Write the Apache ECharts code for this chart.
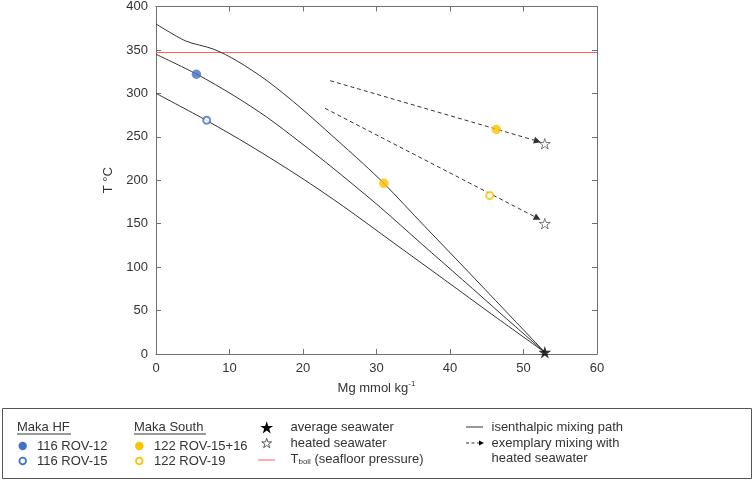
<!DOCTYPE html>
<html>
<head>
<meta charset="utf-8">
<script src="https://cdn.jsdelivr.net/npm/echarts@6/dist/echarts.min.js"></script>
<style>
html,body{margin:0;padding:0;background:#fff;}
#chart{width:754px;height:482px;}
</style>
</head>
<body>
<div id="chart"></div>
<script>
// isenthalpic mixing paths (Mg mmol/kg, T degC)
var curveHot = [[0,380],[4,360.5],[7.8,351],[11,337.5],[15.1,314.6],[19.6,284],[24.2,249.5],[28.2,219],[31,196.5],[36.5,147.5],[42,99],[47.5,50],[52.9,2]];
var curveMid = [[0,345],[5.5,322.3],[10.6,297.4],[15.1,272.5],[19.6,243.8],[24.2,213.2],[30.5,169],[36.1,127],[41.7,85.5],[47.3,43.5],[52.9,2]];
var curveLow = [[0,300],[6.9,268.7],[12.8,239.8],[19.6,203.8],[25.5,169.9],[32.4,127.5],[39.2,85.8],[46,43.8],[52.9,2]];
var tBoil = 347;

// samples
var hf12 = [[5.5,322]];
var hf15 = [[6.9,269]];
var south1516 = [[31,196.5],[46.3,258.5]];
var south19 = [[45.4,182.5]];
var avgSeawater = [[52.9,2]];
var heatedSeawater = [[52.9,242],[52.9,150]];

// exemplary mixing lines
var mixStart = [[23.7,314.6],[23.0,282.8]];
var mixEnd = [[51.9,245],[51.9,156.4]];

var FONT = 'Liberation Sans, Arial, sans-serif';
var TXT = '#333';
var AX = '#707070';
var BLUE = '#4472c4';
var GOLD = '#ffc000';
var RED = '#ff5a5a';
var STAR = 'path://M50,0 L61.2,34.5 L97.6,34.5 L68.2,55.9 L79.4,90.5 L50,69.1 L20.6,90.5 L31.8,55.9 L2.4,34.5 L38.8,34.5 Z';

function starPts(cx, cy, R){
  var p = [];
  for (var i = 0; i < 10; i++) {
    var a = (-90 + i*36) * Math.PI/180;
    var r = i % 2 ? R*0.382 : R;
    p.push([cx + r*Math.cos(a), cy + r*Math.sin(a)]);
  }
  return p;
}

var myChart = echarts.init(document.getElementById('chart'));

var axLine = {show:true, onZero:false, lineStyle:{color:AX, width:1}};
var axTick = {show:true, inside:true, length:5, lineStyle:{color:AX, width:1}};

// legend drawn by hand
var lg = [];
lg.push({type:'rect', shape:{x:2.5, y:408.5, width:749, height:70}, style:{fill:'none', stroke:'#555', lineWidth:1}});
function txt(x, y, s, rich){
  var o = {type:'text', x:x, y:y, style:{text:s, fill:TXT, font:'13px ' + FONT, textVerticalAlign:'middle'}};
  if (rich) o.style.rich = rich;
  lg.push(o);
}
txt(17, 427, 'Maka HF');
lg.push({type:'line', shape:{x1:17, y1:434, x2:71, y2:434}, style:{stroke:TXT, lineWidth:1}});
txt(134, 427, 'Maka South');
lg.push({type:'line', shape:{x1:134, y1:434, x2:206, y2:434}, style:{stroke:TXT, lineWidth:1}});

lg.push({type:'circle', shape:{cx:22.7, cy:446, r:4.2}, style:{fill:BLUE}});
lg.push({type:'circle', shape:{cx:22.7, cy:461, r:3.3}, style:{fill:'#fff', stroke:BLUE, lineWidth:1.8}});
txt(37, 446, '116 ROV-12');
txt(37, 461, '116 ROV-15');

lg.push({type:'circle', shape:{cx:139.3, cy:446, r:4.2}, style:{fill:GOLD}});
lg.push({type:'circle', shape:{cx:139.3, cy:461, r:3.3}, style:{fill:'#fff', stroke:GOLD, lineWidth:1.8}});
txt(154, 446, '122 ROV-15+16');
txt(154, 461, '122 ROV-19');

lg.push({type:'polygon', shape:{points:starPts(266.7, 428, 6.8)}, style:{fill:'#000'}});
lg.push({type:'polygon', shape:{points:starPts(266.7, 443.5, 5.2)}, style:{fill:'#fff', stroke:'#333', lineWidth:0.8}});
lg.push({type:'line', shape:{x1:258, y1:460, x2:275, y2:460}, style:{stroke:RED, lineWidth:1}});
txt(290.5, 427, 'average seawater');
txt(290.5, 443, 'heated seawater');
txt(290.5, 459, 'T{sub|boil} (seafloor pressure)', {sub:{fontSize:8, fontFamily:FONT, fill:TXT, verticalAlign:'bottom', lineHeight:9}});

lg.push({type:'line', shape:{x1:466, y1:427, x2:483, y2:427}, style:{stroke:'#333', lineWidth:1}});
lg.push({type:'line', shape:{x1:466, y1:443, x2:479, y2:443}, style:{stroke:'#333', lineWidth:1, lineDash:[3,2.5]}});
lg.push({type:'polygon', shape:{points:[[479,440.5],[484,443],[479,445.5]]}, style:{fill:'#000'}});
txt(491.5, 427, 'isenthalpic mixing path');
txt(491.5, 443, 'exemplary mixing with');
txt(491.5, 458, 'heated seawater');

function curve(d){
  return {type:'line', data:d, symbol:'none', smooth:0.3,
    lineStyle:{color:'#333', width:1}, z:2, silent:true};
}

myChart.setOption({
  animation:false,
  textStyle:{fontFamily:FONT},
  grid:{left:156, right:157, top:5, bottom:128, containLabel:false},
  xAxis:[
    {type:'value', min:0, max:60, interval:10, position:'bottom',
     axisLine:axLine, axisTick:axTick, splitLine:{show:false},
     axisLabel:{color:TXT, fontSize:13, margin:8, fontFamily:FONT},
     name:'Mg mmol kg{sup|-1}', nameLocation:'middle', nameGap:26,
     nameTextStyle:{color:TXT, fontSize:13, fontFamily:FONT, lineHeight:16,
       rich:{sup:{fontSize:8, fontFamily:FONT, color:TXT, verticalAlign:'top', lineHeight:10}}}},
    {type:'value', min:0, max:60, interval:10, position:'top',
     axisLine:axLine, axisTick:axTick, axisLabel:{show:false}, splitLine:{show:false}}
  ],
  yAxis:[
    {type:'value', min:0, max:400, interval:50, position:'left',
     axisLine:axLine, axisTick:axTick, splitLine:{show:false},
     axisLabel:{color:TXT, fontSize:13, margin:8, fontFamily:FONT},
     name:'T °C', nameLocation:'middle', nameRotate:90, nameGap:35,
     nameTextStyle:{color:TXT, fontSize:13, fontFamily:FONT}},
    {type:'value', min:0, max:400, interval:50, position:'right',
     axisLine:axLine, axisTick:axTick, axisLabel:{show:false}, splitLine:{show:false}}
  ],
  graphic:lg,
  series:[
    {type:'line', data:[[0,tBoil],[60,tBoil]], symbol:'none', lineStyle:{color:RED, width:1}, z:1, silent:true},
    curve(curveHot),
    curve(curveMid),
    curve(curveLow),
    {type:'lines', coordinateSystem:'cartesian2d', z:3, silent:true,
     data:mixStart.map(function(s, i){ return {coords:[s, mixEnd[i]]}; }),
     lineStyle:{color:'#333', width:1, type:[4,3], opacity:1},
     symbol:['none','triangle'], symbolSize:7},
    {type:'scatter', data:hf12, symbolSize:9.5, itemStyle:{color:BLUE}, z:5},
    {type:'scatter', data:hf15, symbolSize:7, itemStyle:{color:'#fff', borderColor:BLUE, borderWidth:2}, z:5},
    {type:'scatter', data:south1516, symbolSize:9.5, itemStyle:{color:GOLD}, z:5},
    {type:'scatter', data:south19, symbolSize:7, itemStyle:{color:'#fff', borderColor:GOLD, borderWidth:2}, z:5},
    {type:'scatter', data:avgSeawater, symbol:STAR, symbolKeepAspect:true, symbolSize:13, itemStyle:{color:'#000'}, z:6},
    {type:'scatter', data:heatedSeawater, symbol:STAR, symbolKeepAspect:true, symbolSize:11, itemStyle:{color:'#fff', borderColor:'#333', borderWidth:0.8}, z:6}
  ]
});
</script>
</body>
</html>
